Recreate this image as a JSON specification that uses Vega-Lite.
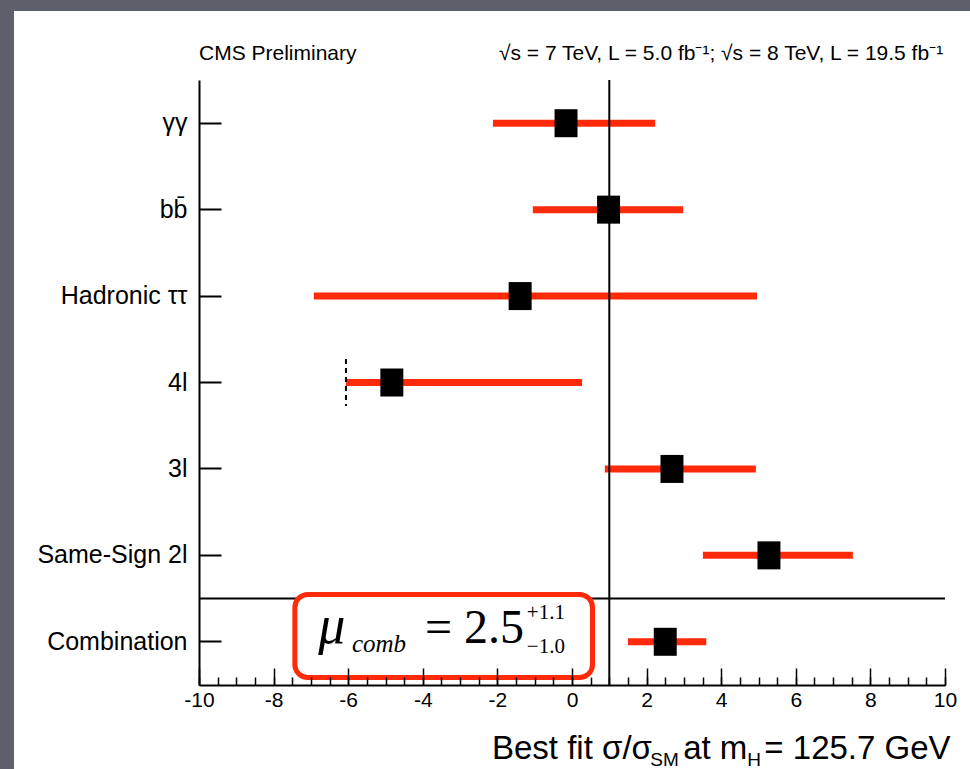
{
  "$schema": "https://vega.github.io/schema/vega-lite/v6.json",
  "width": 746,
  "height": 605,
  "autosize": "none",
  "padding": {"left": 199, "top": 80, "right": 25, "bottom": 84},
  "background": "#5d6169",
  "config": {
    "view": {"stroke": "black", "strokeWidth": 2},
    "font": "Liberation Sans"
  },
  "resolve": {"scale": {"y": "independent"}, "axis": {"x": "independent", "y": "independent"}},
  "layer": [
    {
      "data": {"values": [{}]},
      "mark": {"type": "rect", "fill": "white", "clip": false},
      "encoding": {
        "x": {"datum": -14.96, "type": "quantitative",
          "scale": {"domain": [-10, 10], "nice": false, "zero": false},
          "axis": {"orient": "bottom", "values": [-10,-9.5,-9,-8.5,-8,-7.5,-7,-6.5,-6,-5.5,-5,-4.5,-4,-3.5,-3,-2.5,-2,-1.5,-1,-0.5,0,0.5,1,1.5,2,2.5,3,3.5,4,4.5,5,5.5,6,6.5,7,7.5,8,8.5,9,9.5,10],
            "labels": false, "domain": false, "grid": false, "title": null,
            "tickSize": -8, "tickWidth": 1.5, "tickColor": "black", "zindex": 1}},
        "x2": {"datum": 11},
        "y": {"datum": 1.114, "type": "quantitative",
          "scale": {"domain": [0, 1], "nice": false, "zero": false}, "axis": null},
        "y2": {"datum": -0.15}
      }
    },
    {
      "data": {"values": [
        {"cat": "γγ", "val": -0.16, "lo": -2.12, "hi": 2.23},
        {"cat": "bb̄", "val": 0.98, "lo": -1.05, "hi": 2.98},
        {"cat": "Hadronic ττ", "val": -1.39, "lo": -6.92, "hi": 4.96},
        {"cat": "4l", "val": -4.83, "lo": -6.06, "hi": 0.27, "bound": -6.06},
        {"cat": "3l", "val": 2.68, "lo": 0.88, "hi": 4.93},
        {"cat": "Same-Sign 2l", "val": 5.28, "lo": 3.51, "hi": 7.53},
        {"cat": "Combination", "val": 2.5, "lo": 1.5, "hi": 3.6}
      ]},
      "encoding": {
        "y": {"field": "cat", "type": "nominal",
          "sort": ["γγ", "bb̄", "Hadronic ττ", "4l", "3l", "Same-Sign 2l", "Combination"],
          "scale": {"paddingInner": 0, "paddingOuter": 0},
          "axis": {"orient": "left", "title": null, "tickSize": -22, "tickWidth": 2, "tickColor": "black",
            "domainColor": "black", "domainWidth": 2, "labelFontSize": 25, "labelColor": "black",
            "labelPadding": 34, "labelFont": "Liberation Sans", "zindex": 1}}
      },
      "layer": [
        {
          "mark": {"type": "rule", "color": "#ff2a0a", "strokeWidth": 7},
          "encoding": {
            "x": {"field": "lo", "type": "quantitative", "title": null,
              "scale": {"domain": [-10, 10], "nice": false, "zero": false},
              "axis": {"orient": "bottom", "values": [-10,-8,-6,-4,-2,0,2,4,6,8,10], "labelExpr": "'' + datum.value",
                "tickSize": -17, "tickWidth": 1.5, "tickColor": "black",
                "domainColor": "black", "domainWidth": 2, "labelFontSize": 21, "labelColor": "black",
                "labelPadding": 21, "labelFont": "Liberation Sans", "labelBaseline": "top", "grid": false, "title": null,
                "labelFlush": false, "labelOverlap": false, "zindex": 1}},
            "x2": {"field": "hi"}
          }
        },
        {
          "mark": {"type": "point", "shape": "M-0.82,-1L0.82,-1L0.82,1L-0.82,1Z", "filled": true,
            "color": "black", "opacity": 1, "size": 784, "strokeWidth": 0},
          "encoding": {"x": {"field": "val", "type": "quantitative", "title": null}}
        },
        {
          "transform": [{"filter": "isValid(datum.bound)"}],
          "mark": {"type": "point", "shape": "M0,-1L0,1", "filled": false, "color": "black",
            "opacity": 1, "strokeWidth": 2, "strokeDash": [5, 4], "size": 2209},
          "encoding": {"x": {"field": "bound", "type": "quantitative", "title": null}}
        }
      ]
    },
    {
      "data": {"values": [{}]},
      "layer": [
        {
          "mark": {"type": "rule", "color": "black", "strokeWidth": 2},
          "encoding": {
            "y": {"datum": 0.1428, "type": "quantitative",
              "scale": {"domain": [0, 1], "nice": false, "zero": false}, "axis": null}
          }
        },
        {
          "mark": {"type": "rule", "color": "black", "strokeWidth": 2},
          "encoding": {"x": {"datum": 1, "type": "quantitative", "axis": null}}
        },
        {
          "mark": {"type": "rect", "fill": "white", "stroke": "#ff2a0a", "strokeWidth": 5, "cornerRadius": 13},
          "encoding": {
            "x": {"datum": -7.43, "type": "quantitative", "axis": null},
            "x2": {"datum": 0.55},
            "y": {"datum": 0.1496, "type": "quantitative", "axis": null},
            "y2": {"datum": 0.0124}
          }
        },
        {
          "mark": {"type": "text", "text": "μ", "font": "Liberation Serif", "fontStyle": "italic", "fontSize": 54, "align": "left", "baseline": "alphabetic", "color": "black"},
          "encoding": {"x": {"datum": -6.8, "type": "quantitative", "axis": null}, "y": {"datum": 0.0694, "type": "quantitative", "axis": null}}
        },
        {
          "mark": {"type": "text", "text": "comb", "font": "Liberation Serif", "fontStyle": "italic", "fontSize": 25, "align": "left", "baseline": "alphabetic", "color": "black"},
          "encoding": {"x": {"datum": -5.9, "type": "quantitative", "axis": null}, "y": {"datum": 0.0545, "type": "quantitative", "axis": null}}
        },
        {
          "mark": {"type": "text", "text": "= 2.5", "font": "Liberation Serif", "fontSize": 48, "align": "left", "baseline": "alphabetic", "color": "black"},
          "encoding": {"x": {"datum": -3.94, "type": "quantitative", "axis": null}, "y": {"datum": 0.0694, "type": "quantitative", "axis": null}}
        },
        {
          "mark": {"type": "text", "text": "+1.1", "font": "Liberation Serif", "fontSize": 21, "align": "left", "baseline": "alphabetic", "color": "black"},
          "encoding": {"x": {"datum": -1.21, "type": "quantitative", "axis": null}, "y": {"datum": 0.109, "type": "quantitative", "axis": null}}
        },
        {
          "mark": {"type": "text", "text": "−1.0", "font": "Liberation Serif", "fontSize": 21, "align": "left", "baseline": "alphabetic", "color": "black"},
          "encoding": {"x": {"datum": -1.21, "type": "quantitative", "axis": null}, "y": {"datum": 0.0529, "type": "quantitative", "axis": null}}
        },
        {
          "mark": {"type": "text", "text": "CMS Preliminary", "fontSize": 21, "align": "left", "baseline": "alphabetic", "color": "black"},
          "encoding": {"x": {"datum": -10, "type": "quantitative", "axis": null}, "y": {"datum": 1.033, "type": "quantitative", "axis": null}}
        },
        {
          "mark": {"type": "text", "text": "√s = 7 TeV, L = 5.0 fb⁻¹; √s = 8 TeV, L = 19.5 fb⁻¹", "fontSize": 21, "align": "right", "baseline": "alphabetic", "color": "black"},
          "encoding": {"x": {"datum": 9.95, "type": "quantitative", "axis": null}, "y": {"datum": 1.033, "type": "quantitative", "axis": null}}
        },
        {
          "mark": {"type": "text", "text": "Best fit σ/σ", "fontSize": 33, "align": "left", "baseline": "alphabetic", "color": "black"},
          "encoding": {"x": {"datum": -2.145, "type": "quantitative", "axis": null}, "y": {"datum": -0.1223, "type": "quantitative", "axis": null}}
        },
        {
          "mark": {"type": "text", "text": "SM", "fontSize": 19, "align": "left", "baseline": "alphabetic", "color": "black"},
          "encoding": {"x": {"datum": 2.1, "type": "quantitative", "axis": null}, "y": {"datum": -0.1339, "type": "quantitative", "axis": null}}
        },
        {
          "mark": {"type": "text", "text": "at m", "fontSize": 33, "align": "left", "baseline": "alphabetic", "color": "black"},
          "encoding": {"x": {"datum": 2.98, "type": "quantitative", "axis": null}, "y": {"datum": -0.1223, "type": "quantitative", "axis": null}}
        },
        {
          "mark": {"type": "text", "text": "H", "fontSize": 19, "align": "left", "baseline": "alphabetic", "color": "black"},
          "encoding": {"x": {"datum": 4.7, "type": "quantitative", "axis": null}, "y": {"datum": -0.1339, "type": "quantitative", "axis": null}}
        },
        {
          "mark": {"type": "text", "text": "= 125.7 GeV", "fontSize": 33, "align": "right", "baseline": "alphabetic", "color": "black"},
          "encoding": {"x": {"datum": 10.15, "type": "quantitative", "axis": null}, "y": {"datum": -0.1223, "type": "quantitative", "axis": null}}
        }
      ]
    }
  ]
}
